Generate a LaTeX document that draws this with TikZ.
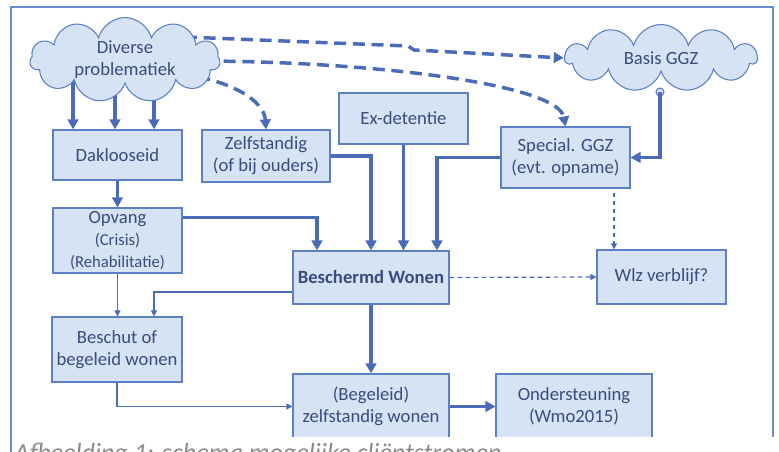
\documentclass[tikz,border=0pt]{standalone}
\usepackage{fontspec}
\setmainfont{Carlito}
\usetikzlibrary{shapes.symbols,arrows.meta,calc,backgrounds}
\definecolor{boxfill}{HTML}{D5E3F5}
\definecolor{bordc}{HTML}{5D7FC6}
\definecolor{arrc}{HTML}{4A6BB8}
\definecolor{txtc}{HTML}{3A4C7E}
\definecolor{framec}{HTML}{6A8CCE}
\definecolor{capc}{HTML}{8A8A8A}
\begin{document}
\begin{tikzpicture}[x=0.75pt,y=-0.75pt,
 box/.style={draw=bordc, line width=0.9pt, fill=boxfill, text=txtc, align=center, inner sep=0pt, font=\fontsize{14}{16.5}\selectfont},
 bx/.style 2 args={box, minimum width=#1*0.75pt, minimum height=#2*0.75pt},
 cld/.style 2 args={cloud, cloud puffs=11, aspect=2.9, draw=bordc, line width=0.8pt, fill=boxfill, text=txtc, align=center, inner sep=0pt, font=\fontsize{14}{16.5}\selectfont, minimum width=#1*0.75pt, minimum height=#2*0.75pt},
 thk/.style={draw=arrc, line width=2.6pt, -{Triangle[length=7.5pt,width=8pt]}},
 thkd/.style={thk, dash pattern=on 9pt off 5pt},
 thn/.style={draw=arrc, line width=0.9pt, -{Triangle[length=4.5pt,width=4.5pt]}},
 thnd/.style={thn, dash pattern=on 3.5pt off 2.5pt},
]
\useasboundingbox (0,0) rectangle (779,452);
\clip (0,0) rectangle (779,452);

\node[cld={190}{66}] (div) at (125,60) {Diverse\\problematiek};
\node[cld={192}{67}] (basis) at (661,58) {Basis GGZ};
\node[bx={129}{50}] (dak) at (117.5,155) {Daklooseid};
\node[bx={128}{52}] (zelf) at (266,156) {Zelfstandig\\(of bij ouders)};
\node[bx={129}{51}] (ex) at (403.5,118.5) {Ex-detentie};
\node[bx={129}{61}] (spec) at (565.5,157.5) {Special. GGZ\\(evt. opname)};
\node[bx={129}{65}, font=\fontsize{12.5}{16.5}\selectfont] (opv) at (117.5,240.5) {{\fontsize{14}{16.5}\selectfont Opvang}\\(Crisis)\\(Rehabilitatie)};
\node[bx={156}{53}, font=\bfseries\fontsize{14}{16.5}\selectfont] (besch) at (371,277.5) {Beschermd Wonen};
\node[bx={129}{54}] (wlz) at (661.5,277) {Wlz verblijf?};
\node[bx={130}{65}] (beschut) at (117,349.5) {Beschut of\\begeleid wonen};
\node[bx={156}{65}] (beg) at (371,406.5) {(Begeleid)\\zelfstandig wonen};
\node[bx={156}{65}] (ond) at (574,406.5) {Ondersteuning\\(Wmo2015)};
\node[circle, draw=bordc, fill=boxfill, line width=0.8pt, minimum size=8*0.75pt, inner sep=0pt] (bc) at (660,92) {};
\coordinate (s1) at ($(spec.south)+(48.5,4)$);

\begin{scope}[on background layer]
\draw[thk] ($(dak.north)+(-44.5,-55)$) -- ($(dak.north)+(-44.5,0)$);
\draw[thk] ($(dak.north)+(-2.5,-55)$) -- ($(dak.north)+(-2.5,0)$);
\draw[thk] ($(dak.north)+(36.5,-55)$) -- ($(dak.north)+(36.5,0)$);
\draw[thkd] ($(div.center)+(60,-23)$) -- (408,46) -- (414,50) -- (basis.west);
\draw[thkd] ($(div.center)+(80,1)$) .. controls (380,62) and (558,85) .. (spec.north);
\draw[thkd] ($(div.center)+(55,14)$) .. controls (230,80) and (264,100) .. (zelf.north);
\end{scope}

\draw[thk] (bc.center) |- (spec.east);
\draw[thk] (dak.south) -- (opv.north);
\draw[thk] (zelf.east) -| (besch.north);
\draw[thk] (ex.south) -- (ex.south |- besch.north);
\draw[thk] (spec.west) -| ($(besch.north)+(66,0)$);
\draw[thk] ($(opv.north east)+(0,10)$) -| ($(besch.north)+(-54,0)$);
\draw[thk] (besch.south) -- (beg.north);
\draw[thk] (beg.east) -- (ond.west);
\draw[thn] (opv.south) -- (opv.south |- beschut.north);
\draw[thn] ($(besch.west)+(0,14.5)$) -| ($(beschut.north)+(37,0)$);
\draw[thn] (beschut.south) |- (beg.west);
\draw[thnd] (besch.east) -- (wlz.west);
\draw[thnd] (s1) -- (s1 |- wlz.north);

\draw[framec, line width=1.1pt] (11,7) rectangle (773,470);
\fill[white] (13.5,437.5) rectangle (790,470);
\node[anchor=base west, text=capc, font=\itshape\fontsize{19.6}{22}\selectfont, inner sep=0pt] (cap) at (14,461) {Afbeelding 1: schema mogelijke cliëntstromen};
\end{tikzpicture}
\end{document}
